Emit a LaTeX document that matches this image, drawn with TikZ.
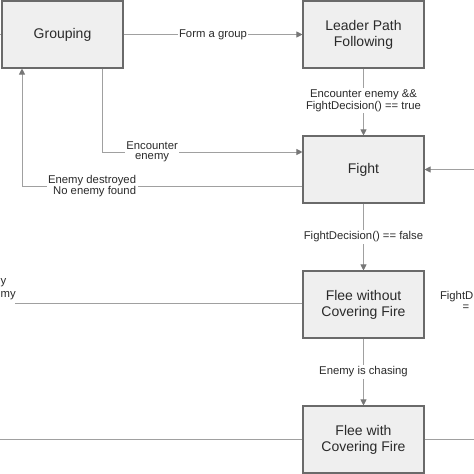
\documentclass[tikz,border=0pt]{standalone}
\usepackage{fontspec}
\setmainfont{Liberation Sans}
\usetikzlibrary{arrows.meta}
\definecolor{boxfill}{HTML}{EFEFEF}
\definecolor{boxline}{HTML}{6A6A6A}
\definecolor{conn}{HTML}{A0A0A0}
\definecolor{tip}{HTML}{777777}
\definecolor{txt}{HTML}{2A2A2A}
\tikzset{
  state/.style={draw=boxline, line width=1.1pt, fill=boxfill, minimum width=121pt, minimum height=67pt,
    inner sep=0pt, align=center, font=\fontsize{14}{16}\selectfont, text=txt},
  lbl/.style={fill=white, inner sep=1.5pt, align=center, font=\fontsize{11.3}{10.5}\selectfont, text=txt},
  plain/.style={inner sep=0pt, font=\fontsize{11.3}{10.5}\selectfont, text=txt},
  conn/.style={draw=conn, line width=0.9pt},
  arr/.style={conn, -{Triangle[length=6pt,width=6pt,color=tip]}}
}
\begin{document}
\begin{tikzpicture}[x=1pt,y=-1pt]
\useasboundingbox (0,0) rectangle (474,474);
\clip (0,0) rectangle (474,474);
\fill[white] (0,0) rectangle (474,474);

\node[state] (grp) at (62.5,34.5) {Grouping};
\node[state] (lead) at (363.5,34.5) {Leader Path\\Following};
\node[state] (fight) at (363.5,169.5) {Fight};
\node[state] (flee1) at (363.5,304.5) {Flee without\\Covering Fire};
\node[state] (flee2) at (363.5,439.5) {Flee with\\Covering Fire};

\coordinate (lin) at (0,34.5);
\coordinate (rin) at (474,169.5);
\coordinate (lfree) at (15,303);
\coordinate (lbot) at (0,439);
\coordinate (rbot) at (474,439);

% Grouping -> Leader
\draw[arr] (grp.east) -- (lead.west) node[lbl, midway] {Form a group};
% Leader -> Fight
\draw[arr] (lead.south) -- (fight.north) node[lbl, pos=0.48] {Encounter enemy \&\&\\FightDecision() == true};
% Grouping -> Fight
\draw[arr] (grp.south -| 102,0) |- (fight.west |- 0,152) node[lbl, pos=0.625] {Encounter\\enemy};
% Fight -> Grouping
\draw[arr] (fight.west |- 0,186) -| (grp.south -| 22,0) node[lbl, align=right, pos=0.375] {Enemy destroyed\\No enemy found};
% right -> Fight
\draw[arr] (rin) -- (fight.east);
% Fight -> Flee without
\draw[arr] (fight.south) -- (flee1.north) node[lbl, pos=0.5] {FightDecision() == false};
% Flee without -> Flee with
\draw[arr] (flee1.south) -- (flee2.north) node[lbl, pos=0.5] {Enemy is chasing};

% stubs at the cut edges
\draw[conn] (lin) -- (grp.west);
\draw[conn] (lfree) -- (flee1.west |- lfree);
\draw[conn] (lbot) -- (flee2.west |- lbot);
\draw[conn] (flee2.east |- rbot) -- (rbot);

\node[plain, anchor=west] (ly) at (0.5,283) {y};
\node[plain, anchor=west] (lmy) at (0.5,296) {my};
\node[plain, anchor=east] (rfd) at (473.5,297) {FightD};
\node[plain] (req) at (466,308) {=};
\end{tikzpicture}
\end{document}
